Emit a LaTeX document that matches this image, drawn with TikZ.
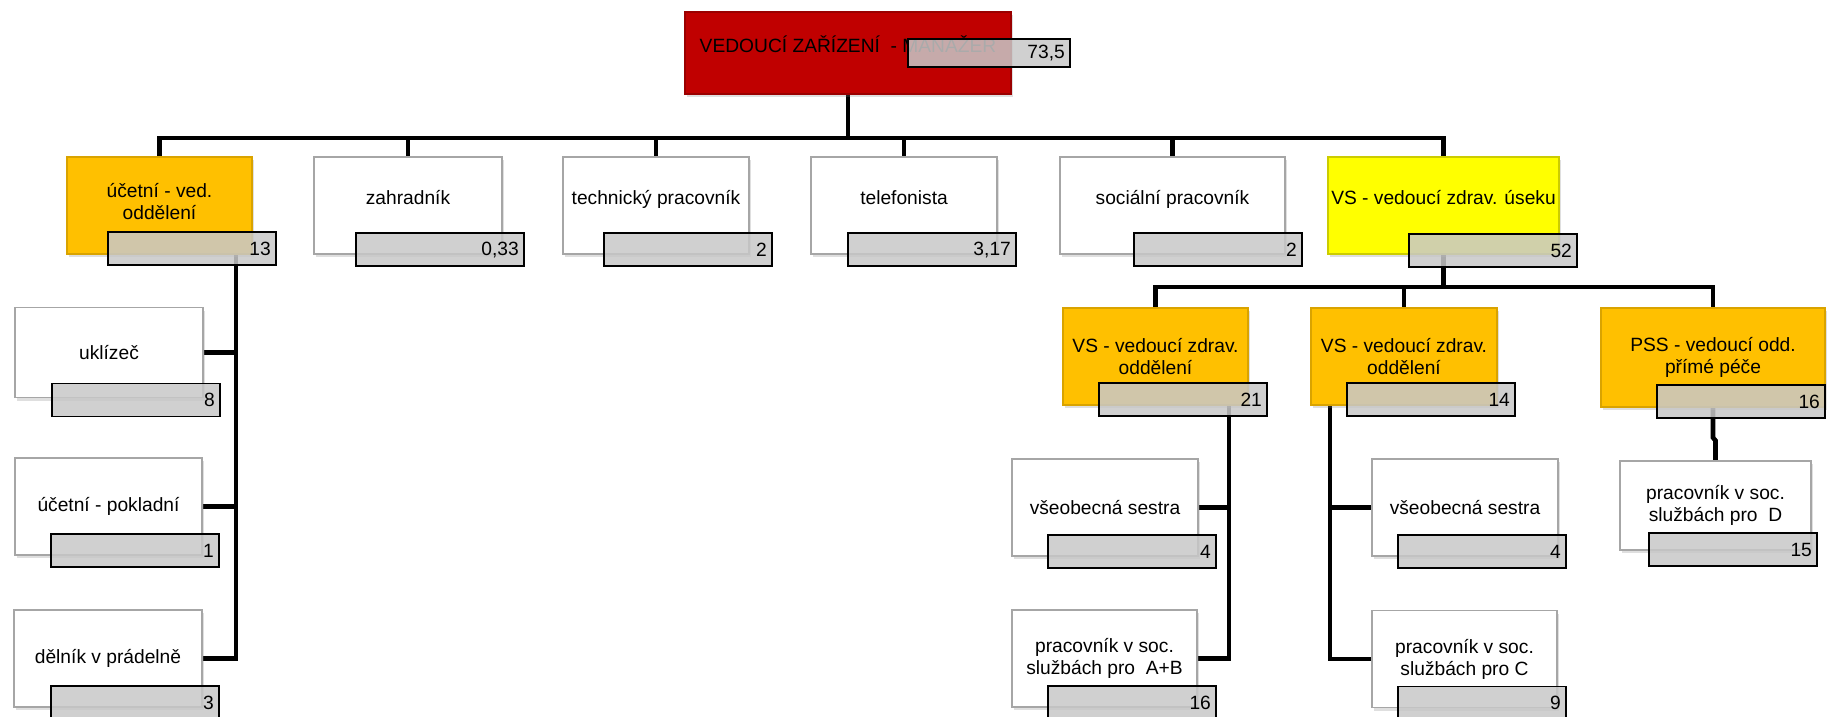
\documentclass[tikz,border=0pt]{standalone}
\usepackage{fontspec}
\setmainfont{Liberation Sans}
\usetikzlibrary{shadows, backgrounds}
\definecolor{chiefred}{HTML}{C00000}
\definecolor{headorange}{HTML}{FFC000}
\definecolor{vsyellow}{HTML}{FFFF00}
\definecolor{ftegray}{RGB}{200,200,200}
\definecolor{edgegray}{HTML}{A6A6A6}

\begin{document}
\begin{tikzpicture}[x=1pt, y=-1pt,
  jobbox/.style={rectangle, minimum height=97pt, inner sep=2pt, align=center, draw=edgegray, line width=1.2pt, fill=white, font=\fontsize{19.2}{22}\selectfont, drop shadow={shadow xshift=2pt, shadow yshift=-3pt, opacity=0.25}},
  headbox/.style={jobbox, fill=headorange, draw=headorange!85!black},
  raised/.style={text height=14pt, text depth=16pt},
  ftebox/.style={rectangle, anchor=east, minimum height=33pt, inner xsep=5pt, inner ysep=0pt, text width=158pt, align=right, draw=black, line width=1.5pt, fill=ftegray, fill opacity=0.85, text opacity=1, font=\fontsize{19.2}{22}\selectfont},
  link/.style={draw=black, line width=4.6pt}]
\useasboundingbox (0,0) rectangle (1827,716);

% Top of the chart
\node[jobbox, raised, fill=chiefred, draw=chiefred!80!black, minimum width=326pt, minimum height=82pt] (manager) at (848,53) {VEDOUCÍ ZAŘÍZENÍ\ \ - MANAŽER};

% First row
\node[headbox, minimum width=185pt] (ucetni) at (159.5,205.5) {účetní - ved.\\oddělení\\[-14pt]};
\node[jobbox, raised, minimum width=188pt] (zahradnik) at (408,205.5) {zahradník};
\node[jobbox, raised, minimum width=186pt] (technik) at (656,205.5) {technický pracovník};
\node[jobbox, raised, minimum width=186pt] (telefon) at (904,205.5) {telefonista};
\node[jobbox, raised, minimum width=225pt] (socialni) at (1172.5,205.5) {sociální pracovník};
\node[jobbox, raised, fill=vsyellow, draw=vsyellow!80!black, minimum width=231pt] (vsuseku) at (1443.5,205.5) {VS - vedoucí zdrav. úseku};

% Left column
\node[jobbox, minimum width=188pt, minimum height=90pt] (uklizec) at (109,352.5) {uklízeč};
\node[jobbox, minimum width=187pt] (pokladni) at (108.5,506.5) {účetní - pokladní};
\node[jobbox, minimum width=188pt] (delnik) at (108,658.5) {dělník v prádelně};

% Health section
\node[headbox, minimum width=185pt] (vsodd1) at (1155.5,356.5) {VS - vedoucí zdrav.\\oddělení};
\node[headbox, minimum width=186pt] (vsodd2) at (1404,356.5) {VS - vedoucí zdrav.\\oddělení};
\node[headbox, minimum width=224pt, minimum height=99pt] (pss) at (1713,357.5) {PSS - vedoucí odd.\\přímé péče};
\node[jobbox, minimum width=186pt] (sestra1) at (1105,507.5) {všeobecná sestra};
\node[jobbox, minimum width=185pt] (pracAB) at (1104.5,658.5) {pracovník v soc.\\službách pro\ \ A+B};
\node[jobbox, minimum width=186pt] (sestra2) at (1465,507.5) {všeobecná sestra};
\node[jobbox, minimum width=185pt] (pracC) at (1464.5,659) {pracovník v soc.\\službách pro C};
\node[jobbox, minimum width=191pt, minimum height=89pt] (pracD) at (1715.5,505.5) {pracovník v soc.\\službách pro\ \ D};

% FTE numbers
\node[ftebox, minimum height=28pt, text width=152pt] (manager-n) at (manager.east) [xshift=59pt] {73,5};
\node[ftebox] (ucetni-n) at (ucetni.south east) [xshift=24pt, yshift=6pt] {13};
\node[ftebox] (zahradnik-n) at (zahradnik.south east) [xshift=22pt, yshift=5pt] {0,33};
\node[ftebox] (technik-n) at (technik.south east) [xshift=23pt, yshift=5pt] {2};
\node[ftebox] (telefon-n) at (telefon.south east) [xshift=19pt, yshift=5pt] {3,17};
\node[ftebox] (socialni-n) at (socialni.south east) [xshift=17pt, yshift=5pt] {2};
\node[ftebox] (vsuseku-n) at (vsuseku.south east) [xshift=18pt, yshift=4pt] {52};
\node[ftebox] (uklizec-n) at (uklizec.south east) [xshift=17pt, yshift=-2pt] {8};
\node[ftebox] (pokladni-n) at (pokladni.south east) [xshift=17pt, yshift=5pt] {1};
\node[ftebox] (delnik-n) at (delnik.south east) [xshift=17pt, yshift=5pt] {3};
\node[ftebox] (vsodd1-n) at (vsodd1.south east) [xshift=19pt, yshift=6pt] {21};
\node[ftebox] (vsodd2-n) at (vsodd2.south east) [xshift=18pt, yshift=6pt] {14};
\node[ftebox] (pss-n) at (pss.south east) [xshift=0pt, yshift=6pt] {16};
\node[ftebox] (sestra1-n) at (sestra1.south east) [xshift=18pt, yshift=5pt] {4};
\node[ftebox] (pracAB-n) at (pracAB.south east) [xshift=19pt, yshift=5pt] {16};
\node[ftebox] (sestra2-n) at (sestra2.south east) [xshift=8pt, yshift=5pt] {4};
\node[ftebox] (pracC-n) at (pracC.south east) [xshift=9pt, yshift=5pt] {9};
\node[ftebox] (pracD-n) at (pracD.south east) [xshift=6pt, yshift=1pt] {15};

% Connectors
\coordinate (bus) at (848,138);
\coordinate (lspine) at (236,254);
\coordinate (vsbus) at (1443.5,287);
\coordinate (spine1) at (1229,405);
\coordinate (spine2) at (1330,405);
\begin{scope}[on background layer]
\foreach \c in {ucetni,zahradnik,technik,telefon,socialni,vsuseku}
  \draw[link] (manager.south) -- (bus) -| (\c.north);
\foreach \c in {uklizec,pokladni,delnik}
  \draw[link] (lspine) |- (\c.east);
\foreach \c in {vsodd1,vsodd2,pss}
  \draw[link] (vsuseku.south) -- (vsbus) -| (\c.north);
\foreach \c in {sestra1,pracAB}
  \draw[link] (spine1) |- (\c.east);
\foreach \c in {sestra2,pracC}
  \draw[link] (spine2) |- (\c.west);
\draw[link] (pss.south) -- ++(0,30) -- ++(2.5,3) -- (pracD.north);
\end{scope}
\end{tikzpicture}
\end{document}
